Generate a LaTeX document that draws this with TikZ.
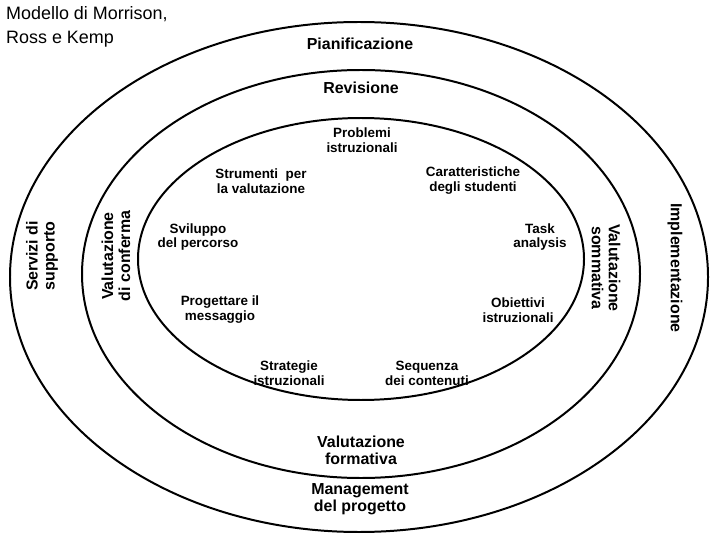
\documentclass[tikz,border=0pt]{standalone}
\usepackage{fontspec}
\setmainfont{Liberation Sans}
\begin{document}
\begin{tikzpicture}[x=1bp,y=-1bp,
 ring/.style={draw=black,line width=2pt},
 big/.style={font=\bfseries\fontsize{16}{17}\selectfont,align=center,inner sep=1pt},
 sm/.style={font=\bfseries\fontsize{13.5}{15}\selectfont,align=center,inner sep=1pt}]
\useasboundingbox (0,0) rectangle (720,540);
\draw[ring] (359,277) ellipse [x radius=349,y radius=255];
\draw[ring] (361,274) ellipse [x radius=279,y radius=204];
\draw[ring] (361,259) ellipse [x radius=223,y radius=141];
\node[font=\fontsize{18}{24}\selectfont,align=left,anchor=north west,inner sep=0] (t) at (6,6) {Modello di Morrison,\\Ross e Kemp};
\node[big] (pia) at (360,44) {Pianificazione};
\node[big] (rev) at (361,88) {Revisione};
\node[big] (vf) at (361,450) {Valutazione\\formativa};
\node[big] (man) at (360,499) {Management\\del progetto};
\node[big,rotate=90] (ser) at (42,256) {Servizi di\\supporto};
\node[big,rotate=90] (vc) at (116,256) {Valutazione\\di conferma};
\node[big,rotate=-90] (vs) at (606,268) {Valutazione\\sommativa};
\node[big,rotate=-90] (imp) at (675,268) {Implementazione};
\node[sm] (a) at (362,140) {Problemi\\istruzionali};
\node[sm] (b) at (261,181) {Strumenti\ \ per\\la valutazione};
\node[sm] (c) at (473,181) {Caratteristiche\\degli studenti};
\node[sm] (d) at (198,237) {Sviluppo\\del percorso};
\node[sm] (e) at (540,237) {Task\\analysis};
\node[sm] (f) at (220,310) {Progettare il\\messaggio};
\node[sm] (g) at (518,310) {Obiettivi\\istruzionali};
\node[sm] (h) at (289,373) {Strategie\\istruzionali};
\node[sm] (i) at (427,373) {Sequenza\\dei contenuti};
\end{tikzpicture}
\end{document}
